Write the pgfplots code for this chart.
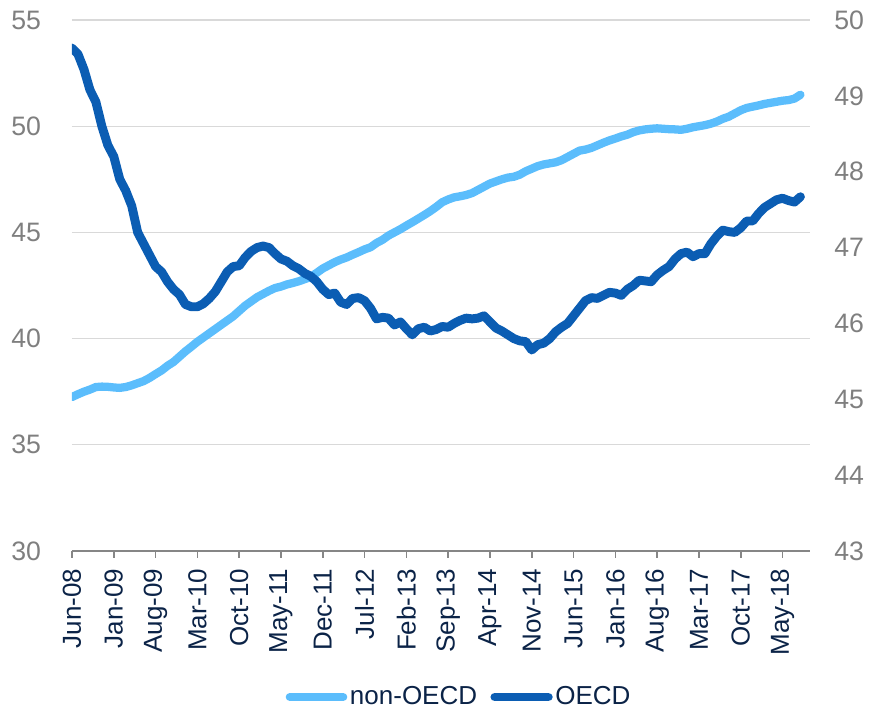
\documentclass[border=0pt]{standalone}
\usepackage{fontspec}
\setmainfont{Liberation Sans}
\usepackage{pgfplots}
\usepackage{pgfplotstable}
\pgfplotsset{compat=1.18}

\definecolor{nonoecd}{HTML}{5BBDFC}
\definecolor{oecd}{HTML}{0B5DB3}
\definecolor{ticktxt}{HTML}{7F7F7F}
\definecolor{navy}{HTML}{0B2347}
\definecolor{gridc}{HTML}{D9D9D9}
\definecolor{axisc}{HTML}{868686}

% month index 0 = Jun-08
\pgfplotstableread{
m v
0 37.25
1 37.38
2 37.50
3 37.60
4 37.72
5 37.74
6 37.73
7 37.70
8 37.68
9 37.72
10 37.80
11 37.90
12 38.00
13 38.15
14 38.33
15 38.50
16 38.72
17 38.90
18 39.15
19 39.40
20 39.62
21 39.85
22 40.05
23 40.25
24 40.45
25 40.65
26 40.85
27 41.05
28 41.30
29 41.55
30 41.75
31 41.95
32 42.10
33 42.25
34 42.38
35 42.45
36 42.55
37 42.62
38 42.70
39 42.80
40 42.90
41 43.10
42 43.30
43 43.45
44 43.60
45 43.72
46 43.82
47 43.95
48 44.07
49 44.20
50 44.30
51 44.50
52 44.65
53 44.85
54 45.00
55 45.15
56 45.32
57 45.48
58 45.65
59 45.82
60 46.00
61 46.20
62 46.42
63 46.55
64 46.65
65 46.70
66 46.76
67 46.85
68 47.00
69 47.15
70 47.30
71 47.40
72 47.50
73 47.58
74 47.62
75 47.72
76 47.88
77 48.00
78 48.12
79 48.20
80 48.25
81 48.30
82 48.40
83 48.55
84 48.70
85 48.85
86 48.90
87 48.98
88 49.10
89 49.22
90 49.33
91 49.42
92 49.52
93 49.60
94 49.72
95 49.80
96 49.85
97 49.88
98 49.90
99 49.88
100 49.86
101 49.85
102 49.83
103 49.88
104 49.95
105 50.00
106 50.05
107 50.12
108 50.22
109 50.35
110 50.45
111 50.60
112 50.75
113 50.86
114 50.92
115 50.98
116 51.05
117 51.10
118 51.15
119 51.20
120 51.23
121 51.30
122 51.48
}\nonoecdtab

\pgfplotstableread{
m v
0 49.63
1 49.55
2 49.35
3 49.08
4 48.92
5 48.60
6 48.35
7 48.20
8 47.90
9 47.75
10 47.55
11 47.20
12 47.05
13 46.90
14 46.75
15 46.68
16 46.55
17 46.45
18 46.38
19 46.25
20 46.22
21 46.22
22 46.26
23 46.33
24 46.42
25 46.55
26 46.68
27 46.75
28 46.76
29 46.87
30 46.95
31 47.00
32 47.02
33 47.00
34 46.92
35 46.85
36 46.82
37 46.76
38 46.72
39 46.66
40 46.62
41 46.55
42 46.45
43 46.38
44 46.40
45 46.28
46 46.25
47 46.33
48 46.34
49 46.30
50 46.20
51 46.06
52 46.08
53 46.07
54 45.98
55 46.02
56 45.93
57 45.85
58 45.93
59 45.95
60 45.90
61 45.92
62 45.96
63 45.95
64 46.00
65 46.04
66 46.07
67 46.06
68 46.07
69 46.10
70 46.02
71 45.94
72 45.90
73 45.85
74 45.80
75 45.77
76 45.76
77 45.65
78 45.72
79 45.74
80 45.80
81 45.89
82 45.95
83 46.00
84 46.10
85 46.20
86 46.30
87 46.34
88 46.33
89 46.37
90 46.41
91 46.40
92 46.37
93 46.45
94 46.50
95 46.57
96 46.56
97 46.55
98 46.64
99 46.70
100 46.75
101 46.85
102 46.92
103 46.94
104 46.88
105 46.92
106 46.92
107 47.05
108 47.15
109 47.23
110 47.21
111 47.20
112 47.26
113 47.35
114 47.35
115 47.45
116 47.53
117 47.58
118 47.63
119 47.65
120 47.62
121 47.60
122 47.67
}\oecdtab

\begin{document}
\fontsize{19.5}{22}\selectfont
\begin{tikzpicture}
\useasboundingbox (-54pt,-120pt) rectangle (605.25pt,413.25pt);

\pgfplotsset{
  common/.style={
    scale only axis,
    width=553.5pt, height=398.25pt,
    at={(0,0)}, anchor=south west,
    xmin=0, xmax=123.6,
    /pgf/number format/assume math mode=true,
    tick label style={font=\fontsize{19.5}{22}\selectfont},
  },
}

\begin{axis}[
  common,
  ymin=30, ymax=55,
  ytick={30,35,...,55},
  axis x line*=bottom,
  axis y line*=left,
  y axis line style={draw=none},
  ytick style={draw=none},
  ymajorgrids,
  grid style={gridc, line width=0.8pt},
  x axis line style={axisc, line width=1.5pt},
  xtick style={axisc, line width=1.2pt},
  tick align=outside,
  major tick length=5pt,
  xtick={0,7,...,119},
  xticklabels={Jun-08,Jan-09,Aug-09,Mar-10,Oct-10,May-11,Dec-11,Jul-12,Feb-13,Sep-13,Apr-14,Nov-14,Jun-15,Jan-16,Aug-16,Mar-17,Oct-17,May-18},
  xticklabel style={rotate=90, anchor=east, text=navy, xshift=-1.5pt},
  yticklabel style={text=ticktxt, font=\fontsize{20}{22}\selectfont, anchor=east, xshift=-11.5pt},
]
\addplot[nonoecd, line width=6.2pt, line join=round, line cap=round] table[x=m, y=v] {\nonoecdtab};
\end{axis}

\begin{axis}[
  common,
  ymin=43, ymax=50,
  ytick={43,...,50},
  axis x line=none,
  axis y line*=right,
  y axis line style={draw=none},
  ytick style={draw=none},
  yticklabel style={text=ticktxt, font=\fontsize{20}{22}\selectfont, anchor=west, xshift=11.5pt},
  legend columns=2,
  legend style={draw=none, fill=none, at={(0.525,-0.275)}, anchor=center,
    font=\fontsize{19.5}{22}\selectfont, text=navy,
    /tikz/every even column/.append style={column sep=8pt},
    inner sep=0pt},
  legend image code/.code={\draw[#1, line cap=round] (0pt,0pt) -- (40pt,0pt);},
]
\addlegendimage{nonoecd, line width=6.2pt}
\addlegendentry{non-OECD}
\addplot[oecd, line width=6.7pt, line join=round, line cap=round] table[x=m, y=v] {\oecdtab};
\addlegendentry{OECD}
\end{axis}
\end{tikzpicture}
\end{document}
